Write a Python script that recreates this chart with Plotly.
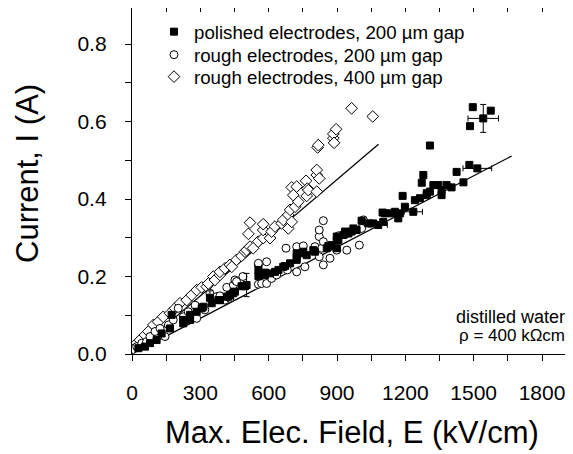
import plotly.graph_objects as go

# ---------------- data ----------------
polished_x = [28, 57, 79, 108, 130, 167, 174, 225, 225, 255, 255, 284, 306, 313, 350, 379, 386, 416, 423, 430,
              445, 452, 481, 496, 555, 562, 555, 584, 584, 606, 628, 643, 664, 672, 694, 723, 723, 723, 745, 752,
              767, 796, 803, 855, 862, 877, 899, 899, 906, 899, 928, 935, 950, 964, 986, 972, 1008, 1038, 1059,
              1100, 1103, 1111, 1140, 1154, 1169, 1176, 1188, 1198, 1242, 1264, 1272, 1279, 1294, 1294,
              1308, 1323, 1345, 1359, 1359, 1381, 1403, 1425, 1455, 1481, 1308, 1484, 1496, 1575]
polished_y = [0.015, 0.019, 0.028, 0.036, 0.053, 0.066, 0.101, 0.079, 0.088, 0.088, 0.101, 0.109, 0.118, 0.122,
              0.131, 0.139, 0.139, 0.148, 0.148, 0.152, 0.157, 0.161, 0.175, 0.175, 0.201, 0.208, 0.217, 0.204,
              0.210, 0.208, 0.212, 0.217, 0.225, 0.227, 0.234, 0.243, 0.251, 0.260, 0.260, 0.264, 0.255, 0.268,
              0.264, 0.273, 0.279, 0.281, 0.273, 0.294, 0.294, 0.303, 0.307, 0.316, 0.311, 0.316, 0.320, 0.324,
              0.344, 0.337, 0.337, 0.365, 0.341, 0.363, 0.363, 0.367, 0.350, 0.363, 0.408, 0.380, 0.397,
              0.402, 0.442, 0.462, 0.410, 0.415, 0.419, 0.436, 0.436, 0.410, 0.423, 0.436, 0.430, 0.470, 0.443,
              0.488, 0.538, 0.588, 0.637, 0.628]

# polished points drawn with error bars
polished_err_x = [342, 503, 1081, 1235, 1516, 1542]
polished_err_y = [0.145, 0.178, 0.333, 0.367, 0.479, 0.608]
polished_ex = [0, 0, 40, 40, 63, 67]
polished_ey = [0.018, 0.030, 0, 0, 0, 0.036]

rough200_x = [21, 43, 64, 79, 101, 123, 145, 160, 181, 203, 225, 247, 277, 284, 320, 342, 372, 386, 408, 416,
              430, 445, 452, 459, 487, 555, 555, 555, 569, 591, 591, 613, 635, 676, 682, 723, 723, 752, 759,
              803, 822, 822, 822, 833, 840, 840, 840, 869, 899, 906, 943, 943, 998, 1008, 1016]
rough200_y = [0.019, 0.028, 0.032, 0.045, 0.058, 0.066, 0.045, 0.075, 0.088, 0.118, 0.096, 0.109, 0.126, 0.092,
              0.114, 0.157, 0.148, 0.150, 0.139, 0.172, 0.144, 0.178, 0.191, 0.187, 0.200, 0.180, 0.230, 0.234,
              0.182, 0.182, 0.238, 0.195, 0.204, 0.273, 0.217, 0.212, 0.277, 0.279, 0.225, 0.277, 0.251, 0.303,
              0.320, 0.273, 0.230, 0.290, 0.344, 0.247, 0.268, 0.305, 0.268, 0.311, 0.281, 0.324, 0.346]

rough400_x = [6, 21, 35, 57, 72, 94, 115, 137, 167, 189, 211, 240, 262, 284, 306, 328, 335, 357, 364, 386, 386,
              408, 430, 438, 459, 481, 496, 503, 511, 518, 518, 532, 554, 576, 576, 576, 606, 613, 628, 657,
              664, 686, 686, 694, 701, 701, 708, 716, 723, 730, 764, 767, 770, 774, 811, 811, 811, 815, 818,
              822, 884, 884, 887, 896, 964, 1057]
rough400_y = [0.015, 0.028, 0.036, 0.049, 0.058, 0.075, 0.083, 0.096, 0.105, 0.118, 0.131, 0.139, 0.152, 0.165,
              0.172, 0.174, 0.182, 0.200, 0.191, 0.204, 0.212, 0.221, 0.230, 0.225, 0.243, 0.253, 0.264, 0.268,
              0.310, 0.277, 0.339, 0.273, 0.290, 0.299, 0.320, 0.335, 0.299, 0.316, 0.329, 0.337, 0.346, 0.324,
              0.359, 0.372, 0.341, 0.430, 0.410, 0.380, 0.432, 0.393, 0.447, 0.408, 0.427, 0.423, 0.419, 0.462,
              0.475, 0.533, 0.539, 0.453, 0.557, 0.568, 0.545, 0.580, 0.634, 0.613]

fit400_x = [0, 1082]
fit400_y = [0.0, 0.541]
fit200_x = [0, 1667]
fit200_y = [0.0, 0.511]

x_ticks = [0, 300, 600, 900, 1200, 1500, 1800]
y_ticks = [0.0, 0.2, 0.4, 0.6, 0.8]

FONT = "Liberation Sans, Arial, sans-serif"

fig = go.Figure()

# fit lines
fig.add_trace(go.Scatter(x=fit400_x, y=fit400_y, mode="lines",
                         line=dict(color="black", width=1.3), showlegend=False, hoverinfo="skip"))
fig.add_trace(go.Scatter(x=fit200_x, y=fit200_y, mode="lines",
                         line=dict(color="black", width=1.3), showlegend=False, hoverinfo="skip"))

sq = dict(symbol="square", size=7, color="black", line=dict(color="black", width=1))
ci = dict(symbol="circle-open", size=8, color="black", line=dict(color="black", width=1))
di = dict(symbol="diamond-open", size=9, color="black", line=dict(color="black", width=1))

fig.add_trace(go.Scatter(x=rough400_x, y=rough400_y, mode="markers",
                         marker=dict(symbol="diamond", size=9, color="white", line=dict(color="black", width=1)),
                         showlegend=False))
fig.add_trace(go.Scatter(x=rough200_x, y=rough200_y, mode="markers",
                         marker=dict(symbol="circle", size=8, color="white", line=dict(color="black", width=1)),
                         showlegend=False))
fig.add_trace(go.Scatter(x=polished_x, y=polished_y, mode="markers", marker=sq, showlegend=False))
fig.add_trace(go.Scatter(x=polished_err_x, y=polished_err_y, mode="markers", marker=sq, showlegend=False,
                         error_x=dict(type="data", array=polished_ex, color="black", thickness=1, width=3),
                         error_y=dict(type="data", array=polished_ey, color="black", thickness=1, width=3)))

# legend entries (one legend per row so the row spacing matches)
fig.add_trace(go.Scatter(x=[None], y=[None], mode="markers", marker=sq, legend="legend",
                         name="polished electrodes, 200 µm gap"))
fig.add_trace(go.Scatter(x=[None], y=[None], mode="markers", marker=ci, legend="legend2",
                         name="rough electrodes, 200 µm gap"))
fig.add_trace(go.Scatter(x=[None], y=[None], mode="markers", marker=di, legend="legend3",
                         name="rough electrodes, 400 µm gap"))

# invisible trace for the top axis
fig.add_trace(go.Scatter(x=[None], y=[None], xaxis="x2", showlegend=False, hoverinfo="skip"))

# page is drawn with an 8px body margin; plot area in page pixels:
PL, PR, PT, PB = 132, 573, 8, 354
OFF = 8
W, H = 573 - OFF, 454 - OFF
L, T = PL - OFF, PT - OFF
R, B = 0, H - (PB - OFF)
pw, ph = PR - PL, PB - PT

Y_TOP = (354 - 8) / 387.5   # value at the top edge of the plot


def px(xp):
    return (xp - PL) / pw


def py(yp):
    return (PB - yp) / ph


def leg(yc):
    return dict(x=px(154), y=py(yc), xanchor="left", yanchor="middle",
                font=dict(size=18.7, family=FONT), bgcolor="rgba(0,0,0,0)", borderwidth=0)


fig.update_layout(
    width=W, height=H,
    margin=dict(l=L, r=R, t=T, b=B, pad=0),
    paper_bgcolor="white", plot_bgcolor="white",
    font=dict(family=FONT, color="black", size=18),
    showlegend=True,
    legend=leg(32),
    legend2=leg(55),
    legend3=leg(77),
    xaxis=dict(range=[0, 1936], showline=True, linecolor="black", linewidth=1.3,
               tickvals=x_ticks, ticks="outside", ticklen=6, tickwidth=1.3, tickcolor="black",
               minor=dict(dtick=150, tick0=0, ticks="outside", ticklen=6, tickwidth=1.3, tickcolor="black"),
               showgrid=False, zeroline=False, tickfont=dict(size=21, family=FONT),
               ticklabelstandoff=14),
    xaxis2=dict(overlaying="x", matches="x", side="top", anchor="y", showline=True, linecolor="black",
                linewidth=1.3, ticks="inside", ticklen=4, tickwidth=1, tickcolor="black",
                tickmode="linear", tick0=0, dtick=150, showticklabels=False, showgrid=False, zeroline=False),
    yaxis=dict(range=[0, Y_TOP], showline=True, linecolor="black", linewidth=1.3,
               tickvals=y_ticks, tickformat=".1f", ticks="outside", ticklen=6, tickwidth=1.3,
               tickcolor="black",
               minor=dict(dtick=0.1, tick0=0, ticks="outside", ticklen=6, tickwidth=1.3, tickcolor="black"),
               showgrid=False, zeroline=False, tickfont=dict(size=21, family=FONT),
               ticklabelstandoff=14),
    annotations=[
        dict(text="Max. Elec. Field, E (kV/cm)", xref="paper", yref="paper", x=px(352), y=py(432),
             xanchor="center", yanchor="middle", showarrow=False, font=dict(size=31, family=FONT)),
        dict(text="Current, I (A)", xref="paper", yref="paper", x=px(27), y=py(174),
             xanchor="center", yanchor="middle", textangle=-90, showarrow=False,
             font=dict(size=31, family=FONT)),
        dict(text="distilled water", xref="paper", yref="paper", x=px(567), y=py(317),
             xanchor="right", yanchor="middle", showarrow=False, font=dict(size=18, family=FONT)),
        dict(text="ρ = 400 kΩcm", xref="paper", yref="paper", x=px(567), y=py(335),
             xanchor="right", yanchor="middle", showarrow=False, font=dict(size=17, family=FONT)),
    ],
)

fig.write_html("out.html")
